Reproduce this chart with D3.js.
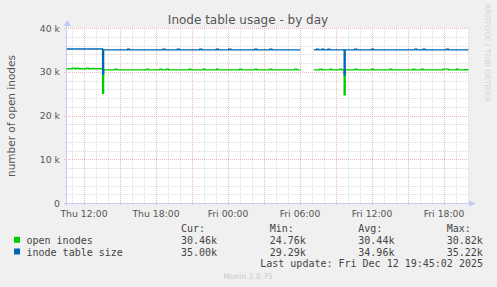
<!DOCTYPE html>
<html lang="en">
<head>
<meta charset="UTF-8">
<title>Inode table usage - by day</title>
<script src="https://d3js.org/d3.v7.min.js"></script>
<style>
  body { margin: 0; background: #f0f0f0; }
  svg { display: block; }
  text { font-family: "DejaVu Sans", sans-serif; }
  .mono { font-family: "DejaVu Sans Mono", monospace; }
</style>
</head>
<body>
<div id="chart"></div>
<script>
// hours counted from Thu 00:00 (Dec 11 2025); values hold until the next point (rrd step)
const hours = [10.56, 11.03, 11.2, 11.37, 11.54, 12.2, 12.37, 12.62, 12.79, 13.23, 13.4, 13.55, 13.63,
  14.56, 14.73, 15.62, 15.79, 17.2, 17.37, 18.31, 18.48, 18.58, 18.75, 18.87, 19.04, 19.78, 19.95,
  20.73, 20.9, 21.64, 21.81, 21.92, 22.09, 23.03, 23.2, 24.06, 24.23, 24.97, 25.14, 26.23, 26.4,
  27.48, 27.65, 29.56, 29.73, 30.03, 30.05,
  31.14, 31.37, 31.54, 31.64, 31.81, 31.98, 32.33, 32.48, 32.65, 33.31, 33.48, 33.68, 33.76,
  34.56, 34.73, 35.95, 36.12, 37.48, 37.65, 39.42, 39.56, 39.73, 40.12, 40.25, 40.42,
  41.9, 42.2, 42.37, 43.03, 43.2, 43.75, 44.03];

const openInodes = [30700, 30820, 30700, 30800, 30700, 30820, 30700, 30780, 30700, 30700, 30700, 25070, 30440,
  30600, 30440, 30440, 30440, 30600, 30440, 30600, 30440, 30440, 30440, 30600, 30440, 30440, 30440,
  30600, 30440, 30440, 30440, 30600, 30440, 30600, 30440, 30440, 30440, 30600, 30440, 30600, 30440,
  30600, 30440, 30600, 30440, 30440, null,
  30440, 30440, 30440, 30600, 30440, 30440, 30440, 30600, 30440, 30600, 30440, 24760, 30440,
  30600, 30440, 30600, 30440, 30600, 30440, 30600, 30440, 30440, 30600, 30440, 30440,
  30600, 30600, 30440, 30600, 30440, 30460, 30460];

const tableSize = [35200, 35220, 35200, 35200, 35200, 35220, 35200, 35200, 35200, 35220, 35200, 29500, 35000,
  35000, 35000, 35150, 35000, 35000, 35000, 35000, 35000, 35150, 35000, 35000, 35000, 35150, 35000,
  35000, 35000, 35150, 35000, 35000, 35000, 35150, 35000, 35150, 35000, 35000, 35000, 35150, 35000,
  35150, 35000, 35000, 35000, 35000, null,
  35000, 35150, 35000, 35000, 35150, 35000, 35150, 35000, 35000, 35000, 35000, 29290, 35000,
  35150, 35000, 35150, 35000, 35000, 35000, 35000, 35150, 35000, 35000, 35150, 35000,
  35000, 35150, 35000, 35000, 35000, 35000, 35000];

const seriesNames = ["open inodes", "inode table size"];
const seriesColors = ["#00cc00", "#0066b3"];
const statHeads = ["Cur:", "Min:", "Avg:", "Max:"];
const statRows = [
  ["30.46k", "24.76k", "30.44k", "30.82k"],
  ["35.00k", "29.29k", "34.96k", "35.22k"]
];
const yTicks = [0, 10000, 20000, 30000, 40000];

const W = 497, H = 287;
const pL = 67, pR = 468.4, pT = 28, pB = 203;

const svg = d3.select("#chart").append("svg")
  .attr("width", W).attr("height", H);

svg.append("rect").attr("width", W).attr("height", H).attr("fill", "#f0f0f0");
svg.append("rect")
  .attr("x", pL).attr("y", pT)
  .attr("width", pR - pL).attr("height", pB - pT)
  .attr("fill", "#ffffff");

const t0 = new Date(2025, 11, 11, 0, 0, 0);
const toDate = h => new Date(t0.getTime() + h * 3600e3);

const x = d3.scaleTime()
  .domain([toDate(10.58), toDate(44.03)])
  .range([pL, pR]);
const y = d3.scaleLinear()
  .domain([0, 40000])
  .range([pB, pT]);

const px = v => Math.round(v) + 0.5;

// grid: minor
const grid = svg.append("g");
d3.range(0, 40001, 2000).filter(v => v % 10000 !== 0).forEach(v => {
  grid.append("line")
    .attr("x1", pL - 2).attr("x2", pR)
    .attr("y1", px(y(v))).attr("y2", px(y(v)))
    .attr("stroke", "#dcdcdc").attr("stroke-dasharray", "1,1");
});
x.ticks(d3.timeHour.every(1)).filter(d => d.getHours() % 3 !== 0).forEach(d => {
  grid.append("line")
    .attr("x1", px(x(d))).attr("x2", px(x(d)))
    .attr("y1", pT).attr("y2", pB + 2)
    .attr("stroke", "#dcdcdc").attr("stroke-dasharray", "1,1");
});
// grid: major
yTicks.forEach(v => {
  grid.append("line")
    .attr("x1", pL - 3).attr("x2", pR)
    .attr("y1", px(y(v))).attr("y2", px(y(v)))
    .attr("stroke", "#f0b4b4").attr("stroke-dasharray", "1,1");
});
x.ticks(d3.timeHour.every(3)).forEach(d => {
  grid.append("line")
    .attr("x1", px(x(d))).attr("x2", px(x(d)))
    .attr("y1", pT).attr("y2", pB + 3)
    .attr("stroke", "#f0b4b4").attr("stroke-dasharray", "1,1");
});

// axes lines with arrows
svg.append("line")
  .attr("x1", pL - 3).attr("x2", pR + 2)
  .attr("y1", px(pB)).attr("y2", px(pB))
  .attr("stroke", "#c8cdf5");
svg.append("line")
  .attr("x1", px(pL - 1)).attr("x2", px(pL - 1))
  .attr("y1", pB + 3).attr("y2", pT - 2)
  .attr("stroke", "#c8cdf5");
svg.append("path")
  .attr("d", `M${pR + 1},${pB - 3} L${pR + 7},${pB + 0.5} L${pR + 1},${pB + 4} Z`)
  .attr("fill", "#c4cbf8");
svg.append("path")
  .attr("d", `M${pL - 4},${pT - 2} L${pL + 0.5},${pT - 8} L${pL + 4},${pT - 2} Z`)
  .attr("fill", "#c4cbf8");

// y labels
svg.append("g").selectAll("text")
  .data(yTicks).join("text")
  .attr("x", 60).attr("y", d => y(d) + 3.5)
  .attr("text-anchor", "end")
  .attr("font-size", "9.3px").attr("fill", "#555")
  .text(d => d === 0 ? "0" : d / 1000 + " k");

// x labels
const fmt = d3.timeFormat("%a %H:%M");
svg.append("g").selectAll("text")
  .data(x.ticks(d3.timeHour.every(6))).join("text")
  .attr("x", d => x(d)).attr("y", 216.5)
  .attr("text-anchor", "middle")
  .attr("font-size", "9.3px").attr("fill", "#555")
  .text(d => fmt(d));

// lines
const data = hours.map((h, i) => ({ t: toDate(h), a: openInodes[i], b: tableSize[i] }));
const mk = key => d3.line()
  .defined(d => d[key] !== null)
  .curve(d3.curveStepAfter)
  .x(d => x(d.t))
  .y(d => y(d[key]));
["a", "b"].forEach((k, i) => {
  svg.append("path")
    .datum(data)
    .attr("fill", "none")
    .attr("stroke", seriesColors[i])
    .attr("stroke-width", 1.4)
    .attr("d", mk(k));
});

// title
svg.append("text")
  .attr("x", 248).attr("y", 23.5)
  .attr("text-anchor", "middle")
  .attr("font-size", "12px").attr("fill", "#555")
  .text("Inode table usage - by day");

// y axis title
svg.append("text")
  .attr("transform", "translate(15,116) rotate(-90)")
  .attr("text-anchor", "middle")
  .attr("font-size", "10.5px").attr("fill", "#555")
  .text("number of open inodes");

// watermark
svg.append("text")
  .attr("transform", "translate(485,53) rotate(90)")
  .attr("text-anchor", "middle")
  .attr("font-size", "7.6px").attr("fill", "#d4d4d4")
  .text("RRDTOOL / TOBI OETIKER");

// legend
const colX = [181, 269.7, 358.3, 446.7];
const leg = svg.append("g").attr("class", "mono").attr("font-size", "10px").attr("fill", "#444");
statHeads.forEach((s, j) => {
  leg.append("text").attr("class", "mono").attr("x", colX[j]).attr("y", 232).text(s);
});
seriesNames.forEach((name, i) => {
  const yy = 243.8 + i * 11.7;
  leg.append("rect")
    .attr("x", 14).attr("y", yy - 7).attr("width", 6).attr("height", 6)
    .attr("fill", seriesColors[i]);
  leg.append("text").attr("class", "mono").attr("x", 26.5).attr("y", yy).text(name);
  statRows[i].forEach((v, j) => {
    leg.append("text").attr("class", "mono").attr("x", colX[j]).attr("y", yy).text(v);
  });
});
leg.append("text").attr("class", "mono")
  .attr("x", 483).attr("y", 267)
  .attr("text-anchor", "end")
  .text("Last update: Fri Dec 12 19:45:02 2025");

svg.append("text")
  .attr("x", 248).attr("y", 279)
  .attr("text-anchor", "middle")
  .attr("font-size", "7.6px").attr("fill", "#c8c8c8")
  .text("Munin 2.0.75");
</script>
</body>
</html>
